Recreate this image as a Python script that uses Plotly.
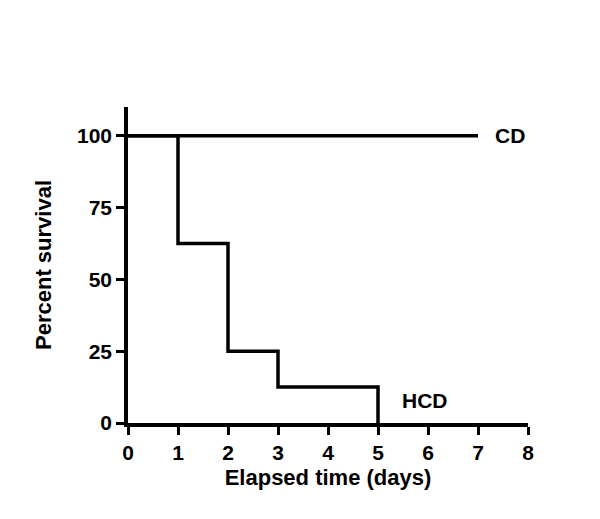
import plotly.graph_objects as go

# Data
hcd_days = [0, 1, 2, 3, 5]
hcd_survival = [100, 62.5, 25, 12.5, 0]
cd_days = [0, 7]
cd_survival = [100, 100]
x_ticks = [0, 1, 2, 3, 4, 5, 6, 7, 8]
y_ticks = [0, 25, 50, 75, 100]

FONT = "Liberation Sans, Arial, sans-serif"

fig = go.Figure()
fig.add_trace(go.Scatter(x=cd_days, y=cd_survival, mode="lines", line=dict(color="black", width=3.5),
                         line_shape="hv", cliponaxis=False, showlegend=False, name="CD"))
fig.add_trace(go.Scatter(x=hcd_days, y=hcd_survival, mode="lines", line=dict(color="black", width=3.5),
                         line_shape="hv", cliponaxis=False, showlegend=False, name="HCD"))

fig.add_annotation(x=7.3, y=100, xref="x", yref="y", text="<b>CD</b>", showarrow=False,
                   xanchor="left", yanchor="middle", font=dict(family=FONT, size=21, color="black"))
fig.add_annotation(x=5.44, y=7.7, xref="x", yref="y", text="<b>HCD</b>", showarrow=False,
                   xanchor="left", yanchor="middle", font=dict(family=FONT, size=21, color="black"))

fig.update_layout(
    width=600, height=519,
    margin=dict(l=120, r=80, t=99, b=104),
    plot_bgcolor="white", paper_bgcolor="white",
    font=dict(family=FONT, color="black"),
    xaxis=dict(range=[0, 8], tickvals=x_ticks, showline=True, linecolor="black", linewidth=3.5,
               ticks="outside", ticklen=8, tickwidth=3, tickcolor="black", showgrid=False, zeroline=False,
               tickfont=dict(family=FONT, size=21, color="black", weight="bold"),
               title=dict(text="<b>Elapsed time (days)</b>", font=dict(family=FONT, size=22), standoff=8)),
    yaxis=dict(range=[0, 110], tickvals=y_ticks, showline=True, linecolor="black", linewidth=3.5,
               ticks="outside", ticklen=8, tickwidth=3, tickcolor="black", showgrid=False, zeroline=False,
               tickfont=dict(family=FONT, size=21, color="black", weight="bold"),
               title=dict(text="<b>Percent survival</b>", font=dict(family=FONT, size=22), standoff=20)),
)

fig.write_html("out.html")
